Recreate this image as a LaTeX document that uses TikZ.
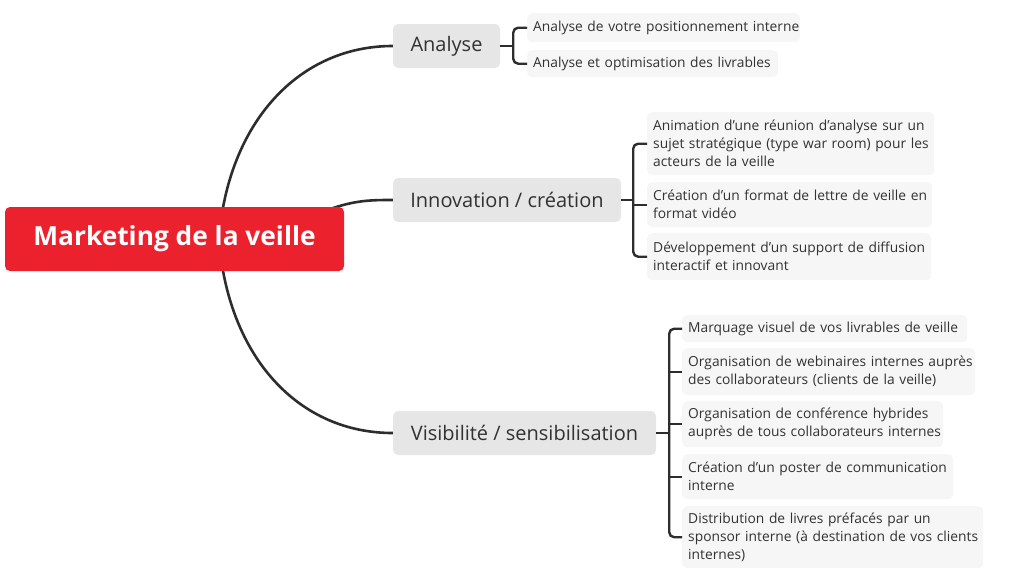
\documentclass[tikz,border=0pt]{standalone}
\usepackage{fontspec}
\setmainfont{Open Sans}
\usetikzlibrary{calc,backgrounds}
\definecolor{rootred}{RGB}{235,33,46}
\definecolor{branchgray}{RGB}{230,230,230}
\definecolor{leafgray}{RGB}{246,246,246}
\definecolor{linegray}{RGB}{45,45,45}
\definecolor{textgray}{RGB}{50,50,50}
\newcommand\lline[1]{\makebox[0pt][l]{#1}}
\newcommand\sline[1]{\makebox[0pt][l]{\raisebox{-2pt}{#1}}}
\tikzset{
 rootbox/.style={fill=rootred, rounded corners=5pt, text=white, font=\fontsize{26.3}{30}\selectfont\bfseries, minimum width=339pt, minimum height=64pt, inner sep=0pt},
 branchbox/.style={fill=branchgray, rounded corners=5pt, text=textgray, font=\fontsize{20}{24}\selectfont, minimum height=44pt, inner sep=0pt},
 leafbox/.style={fill=leafgray, rounded corners=5pt, text=textgray, font=\fontsize{13.8}{18}\selectfont, align=left, inner xsep=6pt, inner ysep=0pt, anchor=north west},
 conn/.style={draw=linegray, line width=2.6pt, line cap=round},
 brk/.style={draw=linegray, line width=2.4pt, rounded corners=5pt},
}
\begin{document}
\begin{tikzpicture}[x=1pt,y=-1pt]
\useasboundingbox (0,0) rectangle (1024,582);
% root
\node[rootbox] (root) at (174.5,239) {Marketing de la veille};
% branches
\node[branchbox, minimum width=107pt] (an) at (446.5,46) {Analyse};
\node[branchbox, minimum width=228pt] (in) at (507,200) {Innovation / création};
\node[branchbox, minimum width=263pt] (vi) at (524.5,433) {Visibilité / sensibilisation};
% leaves
\node[leafbox, text width=261pt, minimum height=29pt] (a1) at (527,13) {\sline{Analyse de votre positionnement interne}};
\node[leafbox, text width=239pt, minimum height=27pt] (a2) at (527,50) {\sline{Analyse et optimisation des livrables}};
\node[leafbox, text width=275pt, minimum height=63pt] (i1) at (647,112) {\lline{Animation d'une réunion d'analyse sur un}\\\lline{sujet stratégique (type war room) pour les}\\\lline{acteurs de la veille}};
\node[leafbox, text width=273pt, minimum height=45pt] (i2) at (647,182) {\lline{Création d'un format de lettre de veille en}\\\lline{format vidéo}};
\node[leafbox, text width=272pt, minimum height=47pt] (i3) at (647,233) {\lline{Développement d'un support de diffusion}\\\lline{interactif et innovant}};
\node[leafbox, text width=273pt, minimum height=27pt] (v1) at (682,315) {\sline{Marquage visuel de vos livrables de veille}};
\node[leafbox, text width=281pt, minimum height=47pt] (v2) at (682,348) {\lline{Organisation de webinaires internes auprès}\\\lline{des collaborateurs (clients de la veille)}};
\node[leafbox, text width=249pt, minimum height=46pt] (v3) at (682,401) {\lline{Organisation de conférence hybrides}\\\lline{auprès de tous collaborateurs internes}};
\node[leafbox, text width=259pt, minimum height=45pt] (v4) at (682,454) {\lline{Création d'un poster de communication}\\\lline{interne}};
\node[leafbox, text width=289pt, minimum height=62pt] (v5) at (682,506) {\lline{Distribution de livres préfacés par un}\\\lline{sponsor interne (à destination de vos clients}\\\lline{internes)}};
% connectors
\begin{pgfonlayer}{background}
\coordinate (r1) at (220,228);
\coordinate (r2) at (300,222);
\coordinate (r3) at (220,250);
\draw[conn] (r1) .. controls (232,120) and (300,46) .. (an.west);
\draw[conn] (r2) .. controls (345,200) and (365,200) .. (in.west);
\draw[conn] (r3) .. controls (232,360) and (300,433) .. (vi.west);
\end{pgfonlayer}
% brackets
\coordinate (ab) at ($(an.east)+(13,0)$);
\draw[brk] (a1.west) -| (ab) |- (a2.west);
\draw[brk] (an.east) -- (ab);
\coordinate (ib) at ($(in.east)+(12,0)$);
\draw[brk] (i1.west) -| (ib) |- (i3.west);
\draw[brk] (in.east) -- (ib);
\draw[brk] (i2.west) -- (i2.west -| ib);
\coordinate (vb) at ($(vi.east)+(13,0)$);
\draw[brk] (v1.west) -| (vb) |- (v5.west);
\draw[brk] (vi.east) -- (vb);
\draw[brk] (v2.west) -- (v2.west -| vb);
\draw[brk] (v3.west) -- (v3.west -| vb);
\draw[brk] (v4.west) -- (v4.west -| vb);
\end{tikzpicture}
\end{document}
